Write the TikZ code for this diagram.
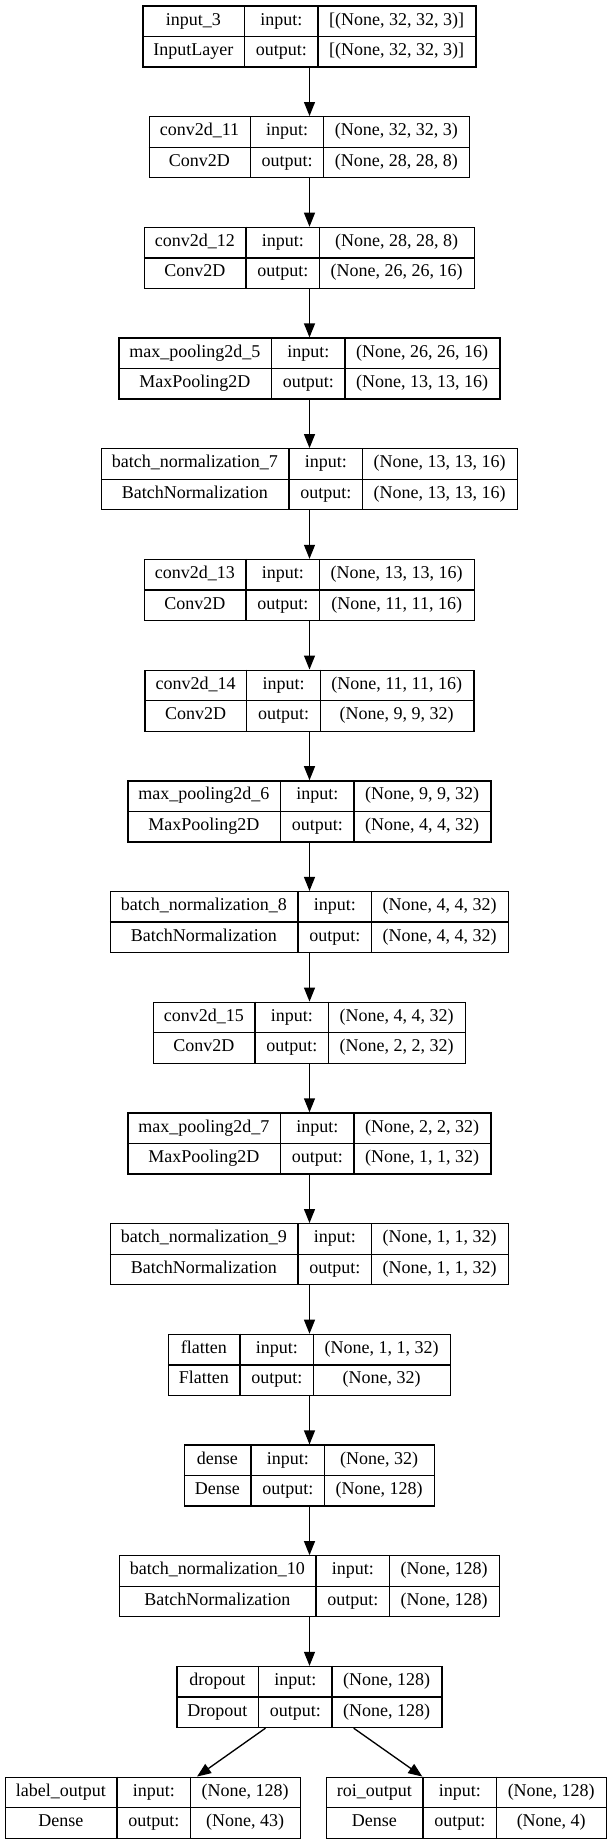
\documentclass[tikz,border=0pt]{standalone}
\usepackage{fontspec}
\setmainfont{Liberation Serif}
\usepackage{tikz}
\usetikzlibrary{arrows.meta}

% cell sizes of one layer box (graphviz record, 2 rows x 3 columns)
\newlength\colpad \setlength\colpad{8.4pt}
\newlength\cola
\newlength\colb
\newlength\colc
\newlength\tmpw
\newlength\boxw
\newcommand\layerfont{\fontsize{13.5pt}{16pt}\selectfont}

% #1 = length to set, #2 / #3 = the two texts of the column
\newcommand\fitcol[3]{%
  \pgfinterruptpicture
  \settowidth{\tmpw}{\normalfont\layerfont #2}\global#1=\tmpw
  \settowidth{\tmpw}{\normalfont\layerfont #3}%
  \ifdim\tmpw>#1\relax \global#1=\tmpw\fi
  \global\advance#1 by 2\colpad
  \endpgfinterruptpicture}

% #1 node name, #2 x, #3 y, #4 layer, #5 class, #6 input shape, #7 output shape
\newcommand\layer[7]{%
  \fitcol\cola{#4}{#5}%
  \fitcol\colb{input:}{output:}%
  \fitcol\colc{#6}{#7}%
  \setlength\boxw{\dimexpr\cola+\colb+\colc\relax}%
  \node[layerbox, minimum width=\boxw] (#1) at (#2,#3) {};
  \draw ([xshift=\cola]#1.north west) -- ([xshift=\cola]#1.south west)
        ([xshift=\cola+\colb]#1.north west) -- ([xshift=\cola+\colb]#1.south west)
        (#1.west) -- (#1.east);
  \node[celltext] at ([xshift=0.5*\cola, yshift=-11.44pt]#1.north west) {#4};
  \node[celltext] at ([xshift=0.5*\cola, yshift=-34.31pt]#1.north west) {#5};
  \node[celltext] at ([xshift=\cola+0.5*\colb, yshift=-11.44pt]#1.north west) {input:};
  \node[celltext] at ([xshift=\cola+0.5*\colb, yshift=-34.31pt]#1.north west) {output:};
  \node[celltext] at ([xshift=\cola+\colb+0.5*\colc, yshift=-11.44pt]#1.north west) {#6};
  \node[celltext] at ([xshift=\cola+\colb+0.5*\colc, yshift=-34.31pt]#1.north west) {#7};
}

\begin{document}
\begin{tikzpicture}[
    >={Triangle[length=10.5pt, width=8.2pt]},
    x=0.75pt, y=-0.75pt,
    line width=1pt,
    layerbox/.style={
        draw,
        minimum height=45.75pt,
        inner sep=0pt
    },
    celltext/.style={
        inner sep=0pt,
        text height=9.75pt,
        text depth=3pt,
        font=\layerfont
    }
]

\useasboundingbox[fill=white] (0,0) rectangle (613,1844);

%---------------------------------
% Layers
%---------------------------------

% Feature extractor
\layer{input3}{309.5}{36.5}{input\_3}{InputLayer}{[(None, 32, 32, 3)]}{[(None, 32, 32, 3)]}
\layer{conv11}{309.5}{147.2}{conv2d\_11}{Conv2D}{(None, 32, 32, 3)}{(None, 28, 28, 8)}
\layer{conv12}{309.5}{257.9}{conv2d\_12}{Conv2D}{(None, 28, 28, 8)}{(None, 26, 26, 16)}
\layer{pool5}{309.5}{368.6}{max\_pooling2d\_5}{MaxPooling2D}{(None, 26, 26, 16)}{(None, 13, 13, 16)}
\layer{bnorm7}{309.5}{479.3}{batch\_normalization\_7}{BatchNormalization}{(None, 13, 13, 16)}{(None, 13, 13, 16)}
\layer{conv13}{309.5}{590.0}{conv2d\_13}{Conv2D}{(None, 13, 13, 16)}{(None, 11, 11, 16)}
\layer{conv14}{309.5}{700.7}{conv2d\_14}{Conv2D}{(None, 11, 11, 16)}{(None, 9, 9, 32)}
\layer{pool6}{309.5}{811.4}{max\_pooling2d\_6}{MaxPooling2D}{(None, 9, 9, 32)}{(None, 4, 4, 32)}
\layer{bnorm8}{309.5}{922.1}{batch\_normalization\_8}{BatchNormalization}{(None, 4, 4, 32)}{(None, 4, 4, 32)}
\layer{conv15}{309.5}{1032.8}{conv2d\_15}{Conv2D}{(None, 4, 4, 32)}{(None, 2, 2, 32)}
\layer{pool7}{309.5}{1143.5}{max\_pooling2d\_7}{MaxPooling2D}{(None, 2, 2, 32)}{(None, 1, 1, 32)}
\layer{bnorm9}{309.5}{1254.2}{batch\_normalization\_9}{BatchNormalization}{(None, 1, 1, 32)}{(None, 1, 1, 32)}

% Head
\layer{flat}{309.5}{1364.9}{flatten}{Flatten}{(None, 1, 1, 32)}{(None, 32)}
\layer{dense}{309.5}{1475.6}{dense}{Dense}{(None, 32)}{(None, 128)}
\layer{bnorm10}{309.5}{1586.3}{batch\_normalization\_10}{BatchNormalization}{(None, 128)}{(None, 128)}
\layer{drop}{309.5}{1697.0}{dropout}{Dropout}{(None, 128)}{(None, 128)}

% Outputs
\layer{labelout}{153}{1807.7}{label\_output}{Dense}{(None, 128)}{(None, 43)}
\layer{roiout}{466.5}{1807.7}{roi\_output}{Dense}{(None, 128)}{(None, 4)}

%---------------------------------
% Arrows
%---------------------------------

\draw[->] (input3) -- (conv11);
\draw[->] (conv11) -- (conv12);
\draw[->] (conv12) -- (pool5);
\draw[->] (pool5) -- (bnorm7);
\draw[->] (bnorm7) -- (conv13);
\draw[->] (conv13) -- (conv14);
\draw[->] (conv14) -- (pool6);
\draw[->] (pool6) -- (bnorm8);
\draw[->] (bnorm8) -- (conv15);
\draw[->] (conv15) -- (pool7);
\draw[->] (pool7) -- (bnorm9);
\draw[->] (bnorm9) -- (flat);
\draw[->] (flat) -- (dense);
\draw[->] (dense) -- (bnorm10);
\draw[->] (bnorm10) -- (drop);

% Split to the two outputs
\draw[->] (drop) -- (labelout);
\draw[->] (drop) -- (roiout);

\end{tikzpicture}
\end{document}
